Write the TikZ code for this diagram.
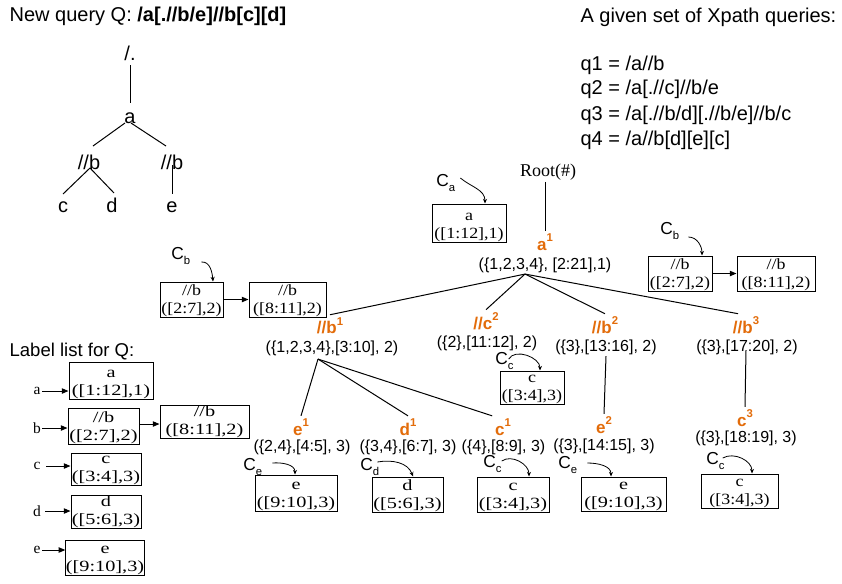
\documentclass[tikz,border=0pt]{standalone}
\usepackage{fontspec}
\setmainfont{Liberation Sans}
\newfontfamily\tms{Liberation Serif}
\newfontfamily\tmsw[FakeStretch=1.3]{Liberation Serif}
\newfontfamily\tmsn[FakeStretch=1.15]{Liberation Serif}
\usetikzlibrary{arrows.meta,calc}
\definecolor{hlc}{HTML}{E36C0A}
% raised index on orange labels, lowered index on C labels
\newcommand\up[1]{\raisebox{0.5em}{\fontsize{8.5}{10}\selectfont #1}}
\newcommand\dn[1]{\raisebox{-0.25em}{\fontsize{8.5}{10}\selectfont #1}}
\begin{document}
\begin{tikzpicture}[x=0.75pt,y=-0.75pt,
  big/.style={font=\fontsize{15}{18}\selectfont, inner sep=1pt},
  tnode/.style={font=\fontsize{15}{18}\selectfont, inner sep=1pt, anchor=base},
  ann/.style={font=\fontsize{12}{14}\selectfont, inner sep=1pt},
  hl/.style={font=\bfseries\fontsize{12.75}{15}\selectfont, text=hlc, inner sep=2pt},
  clab/.style={font=\fontsize{13}{15}\selectfont, inner sep=0pt, anchor=west},
  lbl/.style={font=\tms\fontsize{11.6}{14}\selectfont, inner sep=1pt},
  % two-line record box: last baseline 3.5px above the bottom edge
  box/.style 2 args={draw, line width=0.75pt, inner sep=0pt, align=center,
    minimum width={#1*0.75pt}, minimum height={#2*0.75pt},
    text height={(#2-3.5)*0.75pt}, text depth={3.5*0.75pt}},
  wide/.style={font=\tmsw\fontsize{11.7}{13.5}\selectfont},
  narrow/.style={font=\tmsn\fontsize{11.7}{13.5}\selectfont},
  link/.style={line width=0.75pt},
  arr/.style={line width=0.75pt, -{Triangle[length=5pt,width=4pt]}},
  carrow/.style={line width=0.6pt, -{Stealth[length=3.5pt,width=3pt]}},
]
\fill[white] (0,0) rectangle (842,583);
\useasboundingbox (0,0) rectangle (842,583);

% ---------- new query and its tree ----------
\node[big, anchor=west] (title) at (8,16) {New query Q: \textbf{/a[.//b/e]//b[c][d]}};
\node[tnode] (qr)  at (130,60)  {/.};
\node[tnode] (qa)  at (130,123) {a};
\node[tnode] (qb1) at (89,169)  {//b};
\node[tnode] (qb2) at (172,169) {//b};
\node[tnode] (qc)  at (63,212)  {c};
\node[tnode] (qd)  at (112,212) {d};
\node[tnode] (qe)  at (172,212) {e};
\draw[link] ($(qr.base)+(0,5)$) -- ($(qa.base)+(0,-20)$);
\draw[link] ($(qa.base)+(-5,0)$) -- ($(qb1.base)+(4,-23)$);
\draw[link] ($(qa.base)+(1,0)$) -- ($(qb2.base)+(-6,-23)$);
\draw[link] ($(qb1.base)+(1,-1)$) -- ($(qc.base)+(0,-18)$);
\draw[link] ($(qb1.base)+(1,-1)$) -- ($(qd.base)+(2,-19)$);
\draw[link] ($(qb2.base)+(0,-4)$) -- ($(qe.base)+(0,-18)$);

% ---------- given queries ----------
\node[big, anchor=west] (qhead) at (579,17) {A given set of Xpath queries:};
\node[big, anchor=west] (q1) at (579,65)  {q1 = /a//b};
\node[big, anchor=west] (q2) at (579,89)  {q2 = /a[.//c]//b/e};
\node[big, anchor=west] (q3) at (579,115) {q3 = /a[.//b/d][.//b/e]//b/c};
\node[big, anchor=west] (q4) at (579,140) {q4 = /a//b[d][e][c]};

% ---------- label list ----------
\node[font=\fontsize{13.9}{16}\selectfont, inner sep=1pt, anchor=west] (lhead) at (8,352) {Label list for Q:};
\node[box={84}{37}, wide] (La)  at (111,380.5) {a\\([1:12],1)};
\node[box={71}{36}, wide] (Lb)  at (103.5,426) {//b\\([2:7],2)};
\node[box={89}{33}, wide] (Lb2) at (204.5,421.5) {//b\\([8:11],2)};
\node[box={70}{32}, wide] (Lc)  at (106,469) {c\\([3:4],3)};
\node[box={70}{33}, wide] (Ld)  at (106,511.5) {d\\([5:6],3)};
\node[box={72}{35}, wide] (Le)  at (105,557.5) {e\\([9:10],3)};
\node[lbl] (ta) at (37,391) {a};
\node[lbl] (tb) at (37,428) {b};
\node[lbl] (tc) at (37,466) {c};
\node[lbl] (td) at (37,511) {d};
\node[lbl] (te) at (37,550) {e};
\draw[arr] (ta.east) -- (ta.east -| La.west);
\draw[arr] (tb.east) -- (tb.east -| Lb.west);
\draw[arr] ($(tc.east)+(4,0)$) -- (tc.east -| Lc.west);
\draw[arr] ($(td.east)+(3,0)$) -- (td.east -| Ld.west);
\draw[arr] (te.east) -- (te.east -| Le.west);
\draw[arr] ($(Lb.east)+(0,-2)$) -- ($(Lb.east -| Lb2.west)+(0,-2)$);

% ---------- annotated tree ----------
\node[font=\tms\fontsize{13.5}{16}\selectfont, inner sep=1pt] (root) at (548,172) {Root(\#)};
\node[hl] (a1) at (545,242) {a\up{1}};
\node[ann] (a1i) at (545,265) {(\{1,2,3,4\}, [2:21],1)};
\draw[link] (root.south -| a1.north) -- (a1.north);

\node[hl] (b1) at (330,326) {//b\up{1}};
\node[ann] (b1i) at (332,348) {(\{1,2,3,4\},[3:10], 2)};
\node[hl] (c2) at (486,321) {//c\up{2}};
\node[ann] (c2i) at (487,343) {(\{2\},[11:12], 2)};
\node[hl] (b2) at (605,325) {//b\up{2}};
\node[ann] (b2i) at (606,347) {(\{3\},[13:16], 2)};
\node[hl] (b3) at (746,325) {//b\up{3}};
\node[ann] (b3i) at (747,347) {(\{3\},[17:20], 2)};

\coordinate (a1j) at ($(a1i.south)+(-20,0)$);
\draw[link] (a1j) -- (b1.north);
\draw[link] (a1j) -- (c2.north);
\draw[link] (a1j) -- (b2.north);
\draw[link] (a1j) -- ($(b3.north)+(-8,0)$);

\node[hl] (e1) at (301,427) {e\up{1}};
\node[ann] (e1i) at (302,447) {(\{2,4\},[4:5], 3)};
\node[hl] (d1) at (408,427) {d\up{1}};
\node[ann] (d1i) at (408,447) {(\{3,4\},[6:7], 3)};
\node[hl] (c1) at (503,427) {c\up{1}};
\node[ann] (c1i) at (503.5,447) {(\{4\},[8:9], 3)};
\node[hl] (e2) at (604,425) {e\up{2}};
\node[ann] (e2i) at (604,446) {(\{3\},[14:15], 3)};
\node[hl] (c3) at (745,418) {c\up{3}};
\node[ann] (c3i) at (746,438) {(\{3\},[18:19], 3)};

\coordinate (b1j) at ($(b1i.south)+(-14,2)$);
\draw[link] (b1j) -- (e1.north);
\draw[link] (b1j) -- (d1.north);
\draw[link] (b1j) -- (c1.north west);
\draw[link] (b2i.south) -- (e2.north);
\draw[link] ($(b3i.center)+(-1,3)$) -- (c3.north);

% ---------- candidate boxes ----------
\node[box={74}{38}, narrow] (Ca) at (469,223) {a\\([1:12],1)};
\node[clab] (ca) at (436,183) {C\dn{a}};
\draw[carrow] ($(ca.east)+(5,-5)$) to[out=-40,in=90] ($(Ca.north)+(16,0)$);

\node[box={63}{35}, narrow] (B1) at (191.5,299.5) {//b\\([2:7],2)};
\node[box={77}{35}, narrow] (B2) at (287.5,299.5) {//b\\([8:11],2)};
\node[clab] (cbl) at (171,256) {C\dn{b}};
\draw[carrow] ($(cbl.east)+(11,6)$) to[out=5,in=95] ($(B1.north)+(21.5,0)$);
\draw[arr] (B1.east) -- (B2.west);

\node[box={64}{35}, narrow] (R1) at (680,273.5) {//b\\([2:7],2)};
\node[box={78}{35}, narrow] (R2) at (776,273.5) {//b\\([8:11],2)};
\node[clab] (cbr) at (660,231) {C\dn{b}};
\draw[carrow] ($(cbr.east)+(9,6)$) to[out=0,in=90] ($(R1.north)+(22,0)$);
\draw[arr] (R1.east) -- (R2.west);

\node[box={64}{33}, narrow] (Cc2) at (532,387.5) {c\\([3:4],3)};
\node[clab] (cc2) at (495,361) {C\dn{c}};
\draw[carrow] ($(cc2.east)+(-5,-2)$) to[out=60,in=90] ($(Cc2.north)+(8,0)$);

\node[box={82}{36}, wide] (Be1) at (296,493) {e\\([9:10],3)};
\node[clab] (ce1) at (243,467) {C\dn{e}};
\draw[carrow] ($(ce1.east)+(10,-4)$) to[out=5,in=90] ($(Be1.north)+(-1,0)$);

\node[box={71}{35}, wide] (Bd) at (407.5,494.5) {d\\([5:6],3)};
\node[clab] (cd) at (360,467) {C\dn{d}};
\draw[carrow] ($(cd.east)+(-2,-5)$) to[out=10,in=110] ($(Bd.north)+(5.5,0)$);

\node[box={72}{35}, wide] (Bc1) at (513,494.5) {c\\([3:4],3)};
\node[clab] (cc1) at (483,464) {C\dn{c}};
\draw[carrow] ($(cc1.east)+(0,-3)$) to[out=35,in=90] ($(Bc1.north)+(16,0)$);

\node[box={85}{34}, wide] (Be2) at (623.5,494) {e\\([9:10],3)};
\node[clab] (ce2) at (558,465) {C\dn{e}};
\draw[carrow] ($(ce2.east)+(10,-2)$) to[out=0,in=90] ($(Be2.north)+(-12.5,0)$);

\node[box={77}{34}, narrow] (Bc3) at (739.5,491) {c\\([3:4],3)};
\node[clab] (cc3) at (706,461) {C\dn{c}};
\draw[carrow] ($(cc3.east)+(-2,-3)$) to[out=30,in=90] ($(Bc3.north)+(12.5,0)$);
\end{tikzpicture}
\end{document}
